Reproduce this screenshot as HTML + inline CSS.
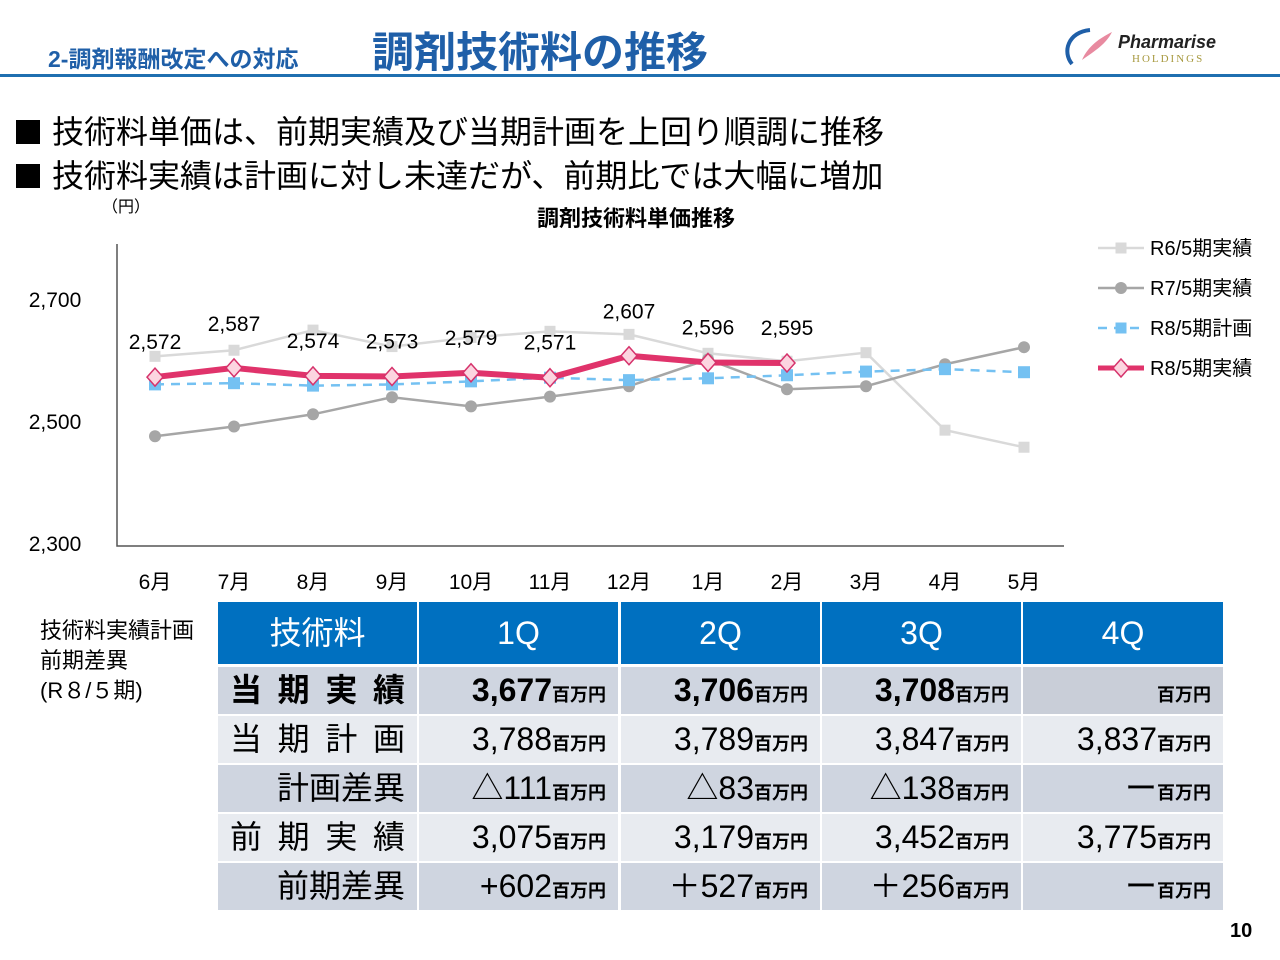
<!DOCTYPE html>
<html><head><meta charset="utf-8">
<style>
body{margin:0;width:1280px;height:960px;background:#fff;position:relative;overflow:hidden;font-family:"Liberation Sans","Noto Sans CJK JP",sans-serif;color:#000}
.abs{position:absolute;white-space:nowrap}
.c{position:absolute;box-sizing:border-box;white-space:nowrap;font-size:32px;text-align:right;padding-right:12px;line-height:47px;height:47px;width:199px}
.h{background:#0070c0;color:#fff;text-align:center;height:62px;line-height:62px;top:602px;padding:0;font-size:32px}
.d{background:#cfd5e0}
.l{background:#e8ebf0}
.u{font-size:18px;font-weight:bold}
.j{text-align:justify;text-align-last:justify;padding:0 12px}
</style></head><body>
<div class="abs" style="left:48px;top:40px;font-size:23px;font-weight:bold;color:#1f5fa8">2-調剤報酬改定への対応</div>
<div class="abs" style="left:372px;top:19px;font-size:42px;font-weight:bold;color:#1f5fa8">調剤技術料の推移</div>
<div class="abs" style="left:1060px;top:24px;width:170px;height:44px">
<svg width="60" height="44" style="position:absolute;left:0;top:0"><path d="M12 40 C2 28 8 8 30 6" stroke="#1f5fa8" stroke-width="4" fill="none"/><path d="M22 36 C28 22 40 14 52 8 C46 20 36 26 22 36Z" fill="#e88aa0"/></svg>
<div class="abs" style="left:58px;top:8px;font-size:18px;font-weight:bold;font-style:italic;color:#222">Pharmarise</div>
<div class="abs" style="left:72px;top:29px;font-size:11px;letter-spacing:2px;color:#a89a40;font-family:'Liberation Serif',serif">HOLDINGS</div></div>
<div class="abs" style="left:0;top:74px;width:1280px;height:3px;background:#1f6fb0"></div>
<div class="abs" style="left:16px;top:107px;font-size:32px"><span style="display:inline-block;width:24px;height:24px;background:#000;margin-right:12px;vertical-align:-1px"></span>技術料単価は、前期実績及び当期計画を上回り順調に推移</div>
<div class="abs" style="left:16px;top:151px;font-size:32px"><span style="display:inline-block;width:24px;height:24px;background:#000;margin-right:12px;vertical-align:-1px"></span>技術料実績は計画に対し未達だが、前期比では大幅に増加</div>

<svg id="chart" class="abs" style="left:0;top:190px" width="1280" height="410"></svg>

<div class="abs" style="left:40px;top:616px;font-size:22px;line-height:30px">技術料実績計画<br>前期差異<br>(R８/５期)</div>
<div>
<div class="c h" style="left:218px">技術料</div><div class="c h" style="left:419px">1Q</div><div class="c h" style="left:621px">2Q</div><div class="c h" style="left:822px">3Q</div><div class="c h" style="left:1023px;width:200px">4Q</div>

<div class="c d j" style="left:218px;top:667px;font-weight:bold">当期実績</div>
<div class="c d" style="left:419px;top:667px;font-weight:bold">3,677<span class="u">百万円</span></div>
<div class="c d" style="left:621px;top:667px;font-weight:bold">3,706<span class="u">百万円</span></div>
<div class="c d" style="left:822px;top:667px;font-weight:bold">3,708<span class="u">百万円</span></div>
<div class="c" style="left:1023px;top:667px;width:200px;background:#c9ced8"><span class="u">百万円</span></div>

<div class="c l j" style="left:218px;top:716px">当期計画</div>
<div class="c l" style="left:419px;top:716px">3,788<span class="u">百万円</span></div>
<div class="c l" style="left:621px;top:716px">3,789<span class="u">百万円</span></div>
<div class="c l" style="left:822px;top:716px">3,847<span class="u">百万円</span></div>
<div class="c l" style="left:1023px;top:716px;width:200px">3,837<span class="u">百万円</span></div>

<div class="c d" style="left:218px;top:765px">計画差異</div>
<div class="c d" style="left:419px;top:765px">△111<span class="u">百万円</span></div>
<div class="c d" style="left:621px;top:765px">△83<span class="u">百万円</span></div>
<div class="c d" style="left:822px;top:765px">△138<span class="u">百万円</span></div>
<div class="c d" style="left:1023px;top:765px;width:200px">ー<span class="u">百万円</span></div>

<div class="c l j" style="left:218px;top:814px">前期実績</div>
<div class="c l" style="left:419px;top:814px">3,075<span class="u">百万円</span></div>
<div class="c l" style="left:621px;top:814px">3,179<span class="u">百万円</span></div>
<div class="c l" style="left:822px;top:814px">3,452<span class="u">百万円</span></div>
<div class="c l" style="left:1023px;top:814px;width:200px">3,775<span class="u">百万円</span></div>

<div class="c d" style="left:218px;top:863px">前期差異</div>
<div class="c d" style="left:419px;top:863px">+602<span class="u">百万円</span></div>
<div class="c d" style="left:621px;top:863px">＋527<span class="u">百万円</span></div>
<div class="c d" style="left:822px;top:863px">＋256<span class="u">百万円</span></div>
<div class="c d" style="left:1023px;top:863px;width:200px">ー<span class="u">百万円</span></div>
</div>
<div class="abs" style="left:1230px;top:920px;font-size:20px;font-weight:bold">10</div>

<script>
const months=["6月","7月","8月","9月","10月","11月","12月","1月","2月","3月","4月","5月"];
const yTicks=[2300,2500,2700];
const r6=[2606,2616,2649,2622,2637,2647,2642,2611,2598,2612,2485,2457];
const r7=[2475,2491,2511,2539,2524,2540,2557,2601,2552,2557,2593,2621];
const r8plan=[2560,2562,2558,2560,2565,2571,2567,2570,2575,2581,2585,2580];
const r8act=[2572,2587,2574,2573,2579,2571,2607,2596,2595];
const NS="http://www.w3.org/2000/svg";
const svg=document.getElementById('chart');
const OY=190;
function x(i){return 155+i*79;}
function y(v){return 543-OY-(v-2300)*0.61;}
function el(t,a){const e=document.createElementNS(NS,t);for(const k in a)e.setAttribute(k,a[k]);svg.appendChild(e);return e;}
function txt(s,xx,yy,o){const e=el('text',Object.assign({x:xx,y:yy,'font-size':21,'text-anchor':'middle'},o||{}));e.textContent=s;return e;}
let t=txt('調剤技術料単価推移',636,36,{'font-size':22,'font-weight':'bold'});

t=txt('（円）',126,22,{'font-size':16});

let a=el('path',{d:`M117 ${y(2700)-55} V${y(2300)+3} H1064`,stroke:'#555','stroke-width':1.5,fill:'none'});

yTicks.forEach(v=>{const e=txt(v.toLocaleString('en-US'),55,y(v)+8);});
months.forEach((m,i)=>{const e=txt(m,x(i),y(2300)+46);});
function line(d,color,w,dash,name){const p=el('polyline',{points:d.map((v,i)=>x(i)+','+y(v)).join(' '),stroke:color,'stroke-width':w,fill:'none','stroke-dasharray':dash||'none'});}
function sq(xx,yy,c,s){return el('rect',{x:xx-s/2,y:yy-s/2,width:s,height:s,fill:c});}
function ci(xx,yy,c){return el('circle',{cx:xx,cy:yy,r:6,fill:c});}
function di(xx,yy){return el('path',{d:`M${xx} ${yy-9}L${xx+8} ${yy}L${xx} ${yy+9}L${xx-8} ${yy}Z`,fill:'#fcd5e0',stroke:'#d6336c','stroke-width':1.5});}
line(r6,'#d9d9d9',2.5,null,'r6-line');
r6.forEach((v,i)=>{const m=sq(x(i),y(v),'#d9d9d9',11);});
line(r7,'#a6a6a6',2.5,null,'r7-line');
r7.forEach((v,i)=>{const m=ci(x(i),y(v),'#a6a6a6');});
line(r8plan,'#74c1f2',2.5,'9,7','r8-plan-line');
r8plan.forEach((v,i)=>{const m=sq(x(i),y(v),'#74c1f2',12);});
line(r8act,'#e0336b',6,null,'r8-actual-line');
r8act.forEach((v,i)=>{const m=di(x(i),y(v));
const l=txt(v.toLocaleString('en-US'),x(i),(i==1||i==6)?y(v)-37:y(v)-28);});
const legs=[["R6/5期実績",'#d9d9d9','sq',2.5,null],["R7/5期実績",'#a6a6a6','ci',2.5,null],["R8/5期計画",'#74c1f2','sq',2.5,'9,7'],["R8/5期実績",'#e0336b','di',5,null]];
legs.forEach((L,k)=>{const yy=58+k*40;const g=el('line',{x1:1098,x2:1144,y1:yy,y2:yy,stroke:L[1],'stroke-width':L[3],'stroke-dasharray':L[4]||'none'});

if(L[2]=='sq')sq(1121,yy,L[1],11);else if(L[2]=='ci')ci(1121,yy,L[1]);else di(1121,yy);
const tt=txt(L[0],1150,yy+7,{'text-anchor':'start','font-size':20});});
</script>
</body></html>
